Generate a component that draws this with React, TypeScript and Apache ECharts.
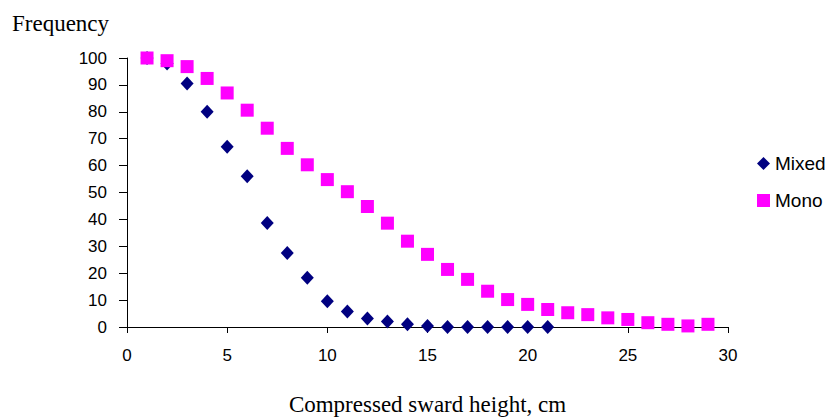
import React, { useEffect, useRef } from "react";
import * as echarts from "echarts";

const heights = [1, 2, 3, 4, 5, 6, 7, 8, 9, 10, 11, 12, 13, 14, 15, 16, 17, 18, 19, 20, 21, 22, 23, 24, 25, 26, 27, 28, 29];
const mixedValues = [100, 98, 90.5, 80, 67, 56, 38.7, 27.5, 18.3, 9.6, 5.8, 3.2, 2.0, 1.0, 0.4, 0, 0, 0, 0, 0, 0];
const monoValues = [100, 99, 96.8, 92.4, 87, 80.6, 73.9, 66.4, 60.3, 54.8, 50.3, 44.8, 38.6, 31.9, 27, 21.4, 17.7, 13.3, 10.2, 8.4, 6.5, 5.3, 4.6, 3.4, 2.8, 1.6, 1.0, 0.4, 1.0];
const seriesNames = ["Mixed", "Mono"];
const xTitle = "Compressed sward height, cm";
const yTitle = "Frequency";

export default function App() {
  const ref = useRef<HTMLDivElement>(null);
  useEffect(() => {
    if (!ref.current) return;
    const chart = echarts.init(ref.current, null, { renderer: "svg" });
    const sans = "'Liberation Sans', Arial, sans-serif";
    const serif = "'Liberation Serif', 'Times New Roman', serif";
    chart.setOption({
      animation: false,
      backgroundColor: "#ffffff",
      grid: {
        left: 127,
        right: 104,
        top: 58,
        bottom: 90,
        containLabel: false,
        outerBoundsMode: "none",
      },
      legend: {
        orient: "vertical",
        left: 752,
        top: 149,
        padding: 5,
        itemGap: 18,
        itemWidth: 13,
        itemHeight: 13,
        textStyle: { fontFamily: sans, fontSize: 19, color: "#000" },
        data: [
          { name: seriesNames[0], icon: "diamond" },
          { name: seriesNames[1], icon: "rect" },
        ],
      },
      graphic: [
        {
          type: "text",
          left: 12,
          top: 12,
          style: { text: yTitle, fontFamily: serif, fontSize: 23, fill: "#000" },
        },
      ],
      xAxis: {
        type: "value",
        min: 0,
        max: 30,
        interval: 5,
        name: xTitle,
        nameLocation: "middle",
        nameGap: 66,
        nameTextStyle: { fontFamily: serif, fontSize: 23, color: "#000" },
        axisLine: { lineStyle: { color: "#000", width: 1 } },
        axisTick: { show: true, inside: false, length: 6, lineStyle: { color: "#000" } },
        axisLabel: { fontFamily: sans, fontSize: 17, color: "#000", margin: 20 },
        splitLine: { show: false },
      },
      yAxis: {
        type: "value",
        min: 0,
        max: 100,
        interval: 10,
        axisLine: { show: true, lineStyle: { color: "#000", width: 1 } },
        axisTick: { show: true, inside: false, length: 8, lineStyle: { color: "#000" } },
        axisLabel: { fontFamily: sans, fontSize: 17, color: "#000", margin: 20 },
        splitLine: { show: false },
      },
      series: [
        {
          name: seriesNames[0],
          type: "scatter",
          symbol: "diamond",
          symbolSize: [13, 14],
          itemStyle: { color: "#000080", opacity: 1 },
          data: mixedValues.map((v, i) => [heights[i], v]),
        },
        {
          name: seriesNames[1],
          type: "scatter",
          symbol: "rect",
          symbolSize: 13,
          itemStyle: { color: "#ff00ff", opacity: 1 },
          data: monoValues.map((v, i) => [heights[i], v]),
        },
      ],
    });
    return () => chart.dispose();
  }, []);
  return (
    <div
      ref={ref}
      style={{ position: "fixed", left: 0, top: 0, width: 832, height: 417 }}
    />
  );
}
